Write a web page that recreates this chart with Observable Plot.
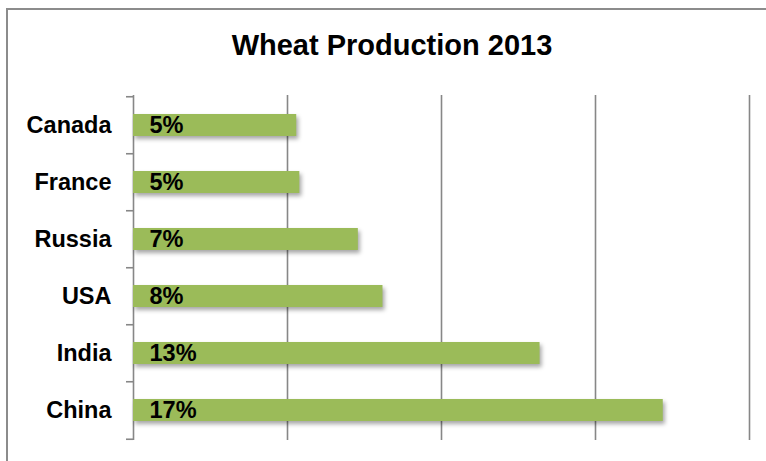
<!DOCTYPE html>
<html>
<head>
<meta charset="utf-8">
<script src="https://cdn.jsdelivr.net/npm/d3@7"></script>
<script src="https://cdn.jsdelivr.net/npm/@observablehq/plot@0.6"></script>
<style>
  html, body { margin: 0; padding: 0; background: #fff; }
  body { width: 766px; height: 461px; overflow: hidden; position: relative; font-family: "Liberation Sans", Arial, sans-serif; }
  #frame { position: absolute; left: 6px; top: 8px; width: 800px; height: 500px; border-left: 2px solid #8c8c8c; border-top: 2px solid #8c8c8c; pointer-events: none; }
  #title { height: 75px; box-sizing: border-box; padding-top: 29px; padding-left: 18px; text-align: center; font-weight: bold; font-size: 29px; line-height: 33px; color: #000; }
  #chart svg { display: block; }
</style>
</head>
<body>
<div id="frame"></div>
<div id="title">Wheat Production 2013</div>
<div id="chart"></div>
<script>
const titleText = "Wheat Production 2013";
const countries = ["Canada", "France", "Russia", "USA", "India", "China"];
const shares = [5.3, 5.4, 7.3, 8.1, 13.2, 17.2];
const gridTicks = [5, 10, 15, 20];
const xDomain = [0, 20];

const data = countries.map((c, i) => ({country: c, share: shares[i]}));
const step = (386 - 20 - 21) / countries.length;

const plot = Plot.plot({
  width: 766,
  height: 386,
  marginLeft: 133,
  marginRight: 17,
  marginTop: 20,
  marginBottom: 21,
  style: {fontFamily: "'Liberation Sans', Arial, sans-serif", background: "transparent", overflow: "visible"},
  x: {domain: xDomain, axis: null},
  y: {domain: countries, paddingInner: 0.62, paddingOuter: 0.31, axis: null, label: null},
  marks: [
    Plot.ruleX(gridTicks, {stroke: "#878787", strokeWidth: 1.6}),
    Plot.ruleX([0], {stroke: "#878787", strokeWidth: 1.6}),
    Plot.axisY({tickSize: 7, stroke: "#878787", strokeWidth: 1.6, text: null, label: null, dy: -step / 2}),
    Plot.axisY({ticks: [countries[countries.length - 1]], tickSize: 7, stroke: "#878787", strokeWidth: 1.6, text: null, label: null, dy: step / 2}),
    Plot.axisY({tickSize: 0, tickPadding: 22, fontSize: 23.5, fontWeight: "bold", fill: "#000", label: null}),
    Plot.barX(data, {y: "country", x: "share", fill: "#9BBB59"}),
    Plot.text(data, {y: "country", x: 0, dx: 16, text: d => Math.round(d.share) + "%", textAnchor: "start", fontSize: 23.5, fontWeight: "bold", fill: "#000"})
  ]
});
document.getElementById("chart").appendChild(plot);
d3.select(plot).selectAll("g[aria-label=bar]").style("filter", "drop-shadow(2px 3px 2px rgba(0,0,0,0.35))");
</script>
</body>
</html>
